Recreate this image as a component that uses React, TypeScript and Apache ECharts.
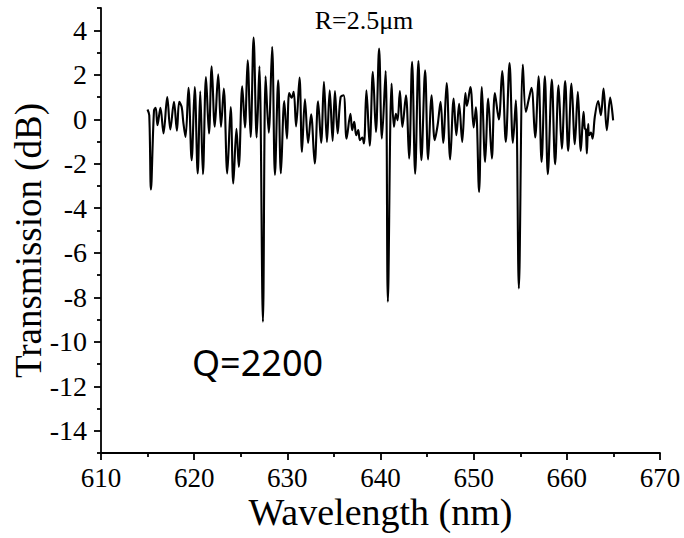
import React, { useEffect, useRef } from "react";
import * as echarts from "echarts";

const wavelength = [
  614.99, 615.18, 615.36, 615.69, 615.87, 616.06, 616.38, 616.71, 617.11, 617.44,
  617.83, 618.15, 618.40, 618.66, 618.83, 619.07, 619.39, 619.73, 620.06, 620.38,
  620.65, 620.94, 621.27, 621.59, 621.88, 622.21, 622.58, 622.88, 623.18, 623.55,
  623.92, 624.20, 624.54, 624.79, 625.16, 625.45, 625.74, 626.06, 626.38, 626.71,
  627.00, 627.38, 627.67, 628.00, 628.37, 628.67, 629.02, 629.31, 629.67, 629.96,
  630.20, 630.46, 630.68, 630.94, 631.31, 631.57, 631.89, 632.23, 632.55, 632.94,
  633.30, 633.63, 633.93, 634.25, 634.55, 634.86, 635.11, 635.40, 635.72, 636.04,
  636.36, 636.77, 636.96, 637.18, 637.39, 637.61, 637.79, 638.04, 638.22, 638.49,
  638.84, 639.18, 639.51, 639.85, 640.15, 640.55, 640.79, 641.19, 641.44, 641.65,
  641.83, 642.08, 642.35, 642.73, 643.07, 643.39, 643.72, 644.07, 644.39, 644.79,
  645.11, 645.49, 645.82, 646.13, 646.45, 646.73, 647.10, 647.48, 647.85, 648.14,
  648.44, 648.77, 649.11, 649.27, 649.65, 650.00, 650.24, 650.58, 650.88, 651.23,
  651.56, 651.95, 652.28, 652.70, 653.06, 653.45, 653.85, 654.21, 654.53, 654.85,
  655.28, 655.60, 655.89, 656.21, 656.60, 656.96, 657.29, 657.64, 657.96, 658.39,
  658.74, 659.11, 659.46, 659.82, 660.14, 660.50, 660.86, 661.18, 661.50, 661.79,
  661.93, 662.04, 662.15, 662.29, 662.39, 662.58, 662.76, 663.00, 663.36, 663.65,
  663.94, 664.29, 664.65, 664.97,
];

const transmission = [
  0.44, 0.18, -3.16, 0.4, 0.51, -0.27, 0.52, -0.64, 1.0, -0.46,
  0.78, -0.52, 0.78, 0.55, -0.12, -0.8, 1.41, -1.84, 1.45, -2.44,
  1.26, -2.47, 1.9, -0.64, 2.38, -0.34, 2.02, -0.34, 1.38, -2.44,
  0.55, -2.89, -0.43, -2.14, 1.48, -0.37, 2.65, -0.8, 3.67, -0.82,
  2.38, -9.1, 1.93, -0.6, 3.25, -2.5, 1.75, -2.43, 0.82, -0.87,
  1.18, 0.97, 1.23, -0.32, 1.87, -1.47, 0.9, -1.07, 0.22, -1.99,
  0.81, -1.06, 1.68, -1.02, 1.3, -0.97, 1.27, -0.64, 1.0, 1.08,
  -0.87, 0.25, -0.49, -0.12, -0.72, -0.49, -0.94, -0.82, -1.09, 1.3,
  -1.19, 2.13, -0.57, 3.18, -0.87, 2.17, -8.2, 1.6, -0.34, 0.25,
  -0.05, 1.27, -0.34, 1.08, -1.77, 2.58, -2.45, 2.62, -1.84, 2.2,
  -1.81, 1.08, -0.94, -0.27, 0.78, -1.06, 1.63, -1.81, 0.93, -0.72,
  0.7, -1.02, 1.18, 0.6, 1.45, -0.37, 0.54, -3.27, 1.45, -1.92,
  0.93, -1.77, 1.18, -0.01, 2.17, -1.02, 2.53, -1.06, 0.85, -7.6,
  2.46, 0.33, 0.85, 1.41, -0.82, 1.93, -1.92, 1.93, -2.47, 1.78,
  -2.02, 1.53, -1.32, 1.72, -1.42, 1.6, -1.12, 1.23, -1.42, 0.33,
  -0.42, -0.45, -1.54, -0.22, -0.72, -0.6, -0.87, 0.1, 0.82, 0.18,
  1.38, -0.49, 0.97, -0.05,
];

const yMajorTicks = [-14, -12, -10, -8, -6, -4, -2, 0, 2, 4];
const yMinorTicks = [-15, -13, -11, -9, -7, -5, -3, -1, 1, 3, 5];

const titleText = "R=2.5\u03bcm";
const qText = "Q=2200";
const xName = "Wavelength (nm)";
const yName = "Transmission (dB)";

const SERIF = "Liberation Serif";

export default function App() {
  const ref = useRef<HTMLDivElement>(null);

  useEffect(() => {
    if (!ref.current) return;
    const chart = echarts.init(ref.current, undefined, { renderer: "svg" });
    const lineStyle = { color: "#000", width: 1.8 };
    const data = wavelength.map((w, i) => [w, transmission[i]]);
    chart.setOption({
      animation: false,
      backgroundColor: "#fff",
      textStyle: { fontFamily: SERIF, color: "#000" },
      grid: {
        left: 101,
        right: 24,
        top: 8,
        bottom: 85,
        containLabel: false,
        outerBoundsMode: "none",
      },
      xAxis: {
        type: "value",
        min: 610,
        max: 670,
        interval: 10,
        name: xName,
        nameLocation: "middle",
        nameGap: 40,
        nameMoveOverlap: false,
        nameTextStyle: { fontFamily: SERIF, fontSize: 38, color: "#000" },
        axisLine: { show: true, onZero: false, lineStyle },
        axisTick: { show: true, inside: false, length: 7, lineStyle },
        minorTick: { show: true, splitNumber: 2, length: 4, lineStyle },
        axisLabel: {
          color: "#000",
          fontFamily: SERIF,
          fontSize: 27,
          margin: 11,
        },
        splitLine: { show: false },
        minorSplitLine: { show: false },
      },
      yAxis: [
        {
          type: "value",
          min: -15,
          max: 5,
          position: "left",
          name: yName,
          nameLocation: "middle",
          nameGap: 54,
          nameMoveOverlap: false,
          nameTextStyle: { fontFamily: SERIF, fontSize: 37, color: "#000", padding: [0, 20, 0, 0] },
          axisLine: { show: true, onZero: false, lineStyle },
          axisTick: {
            show: true,
            inside: false,
            length: 7,
            customValues: yMajorTicks,
            lineStyle,
          },
          axisLabel: {
            color: "#000",
            fontFamily: SERIF,
            fontSize: 28,
            margin: 14,
            customValues: yMajorTicks,
          },
          splitLine: { show: false },
        },
        {
          type: "value",
          min: -15,
          max: 5,
          position: "left",
          axisLine: { show: false, onZero: false },
          axisTick: {
            show: true,
            inside: false,
            length: 4,
            customValues: yMinorTicks,
            lineStyle,
          },
          axisLabel: { show: false },
          splitLine: { show: false },
        },
      ],
      series: [
        {
          type: "line",
          data,
          xAxisIndex: 0,
          yAxisIndex: 0,
          showSymbol: false,
          symbol: "none",
          smooth: 0.35,
          lineStyle: { color: "#000", width: 2.1 },
          silent: true,
        },
      ],
      graphic: [
        {
          type: "text",
          x: 364,
          y: 7,
          style: {
            text: titleText,
            fontFamily: SERIF,
            fontSize: 26,
            fill: "#000",
            textAlign: "center",
            textVerticalAlign: "top",
          },
        },
        {
          type: "text",
          x: 192,
          y: 344,
          style: {
            text: qText,
            fontFamily: "Noto Sans",
            fontSize: 36,
            fill: "#000",
            textAlign: "left",
            textVerticalAlign: "top",
          },
        },
      ],
    });
    return () => chart.dispose();
  }, []);

  return (
    <div
      ref={ref}
      style={{ position: "fixed", left: 0, top: 0, width: 684, height: 538, background: "#fff" }}
    />
  );
}
